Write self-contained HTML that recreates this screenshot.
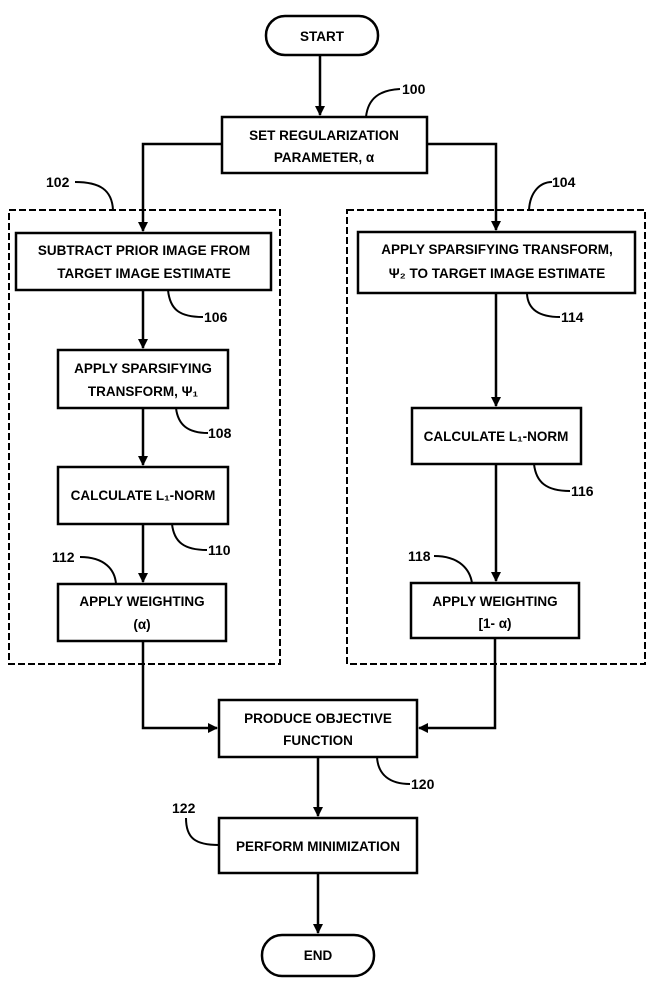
<!DOCTYPE html>
<html><head><meta charset="utf-8"><style>
html,body{margin:0;padding:0;background:#fff;}
svg{display:block;}
text{font-family:"Liberation Sans",sans-serif;font-weight:bold;fill:#000;}
.b{font-size:13.5px;text-anchor:middle;}
.n{font-size:14px;}
</style></head><body>
<svg width="647" height="988" viewBox="0 0 647 988" xmlns="http://www.w3.org/2000/svg">
<defs><marker id="a" markerWidth="10" markerHeight="12" refX="9" refY="6" orient="auto" markerUnits="userSpaceOnUse"><path d="M0,1 L10,6 L0,11 Z" fill="#000"/></marker></defs>
<g fill="none" stroke="#000" stroke-width="2.5">
<rect x="266" y="16" width="112" height="39" rx="19"/>
<rect x="222" y="117" width="205" height="56"/>
<rect x="16" y="233" width="255" height="57"/>
<rect x="358" y="232" width="277" height="61"/>
<rect x="58" y="350" width="170" height="58"/>
<rect x="58" y="467" width="170" height="57"/>
<rect x="58" y="584" width="168" height="57"/>
<rect x="412" y="408" width="169" height="56"/>
<rect x="411" y="583" width="168" height="55"/>
<rect x="219" y="700" width="198" height="57"/>
<rect x="219" y="818" width="198" height="55"/>
<rect x="262" y="935" width="112" height="41" rx="20"/>
</g>
<g fill="none" stroke="#000" stroke-width="2" stroke-dasharray="7,3">
<rect x="9" y="210" width="271" height="454"/>
<rect x="347" y="210" width="298" height="454"/>
</g>
<g fill="none" stroke="#000" stroke-width="2.5">
<path d="M320,55 V115" marker-end="url(#a)"/>
<path d="M222,144 H143 V231" marker-end="url(#a)"/>
<path d="M427,144 H496 V230" marker-end="url(#a)"/>
<path d="M143,290 V348" marker-end="url(#a)"/>
<path d="M143,408 V465" marker-end="url(#a)"/>
<path d="M143,524 V582" marker-end="url(#a)"/>
<path d="M496,293 V406" marker-end="url(#a)"/>
<path d="M496,464 V581" marker-end="url(#a)"/>
<path d="M143,641 V728 H217" marker-end="url(#a)"/>
<path d="M495,638 V728 H419" marker-end="url(#a)"/>
<path d="M318,757 V816" marker-end="url(#a)"/>
<path d="M318,873 V933" marker-end="url(#a)"/>
</g>
<g fill="none" stroke="#000" stroke-width="2">
<path d="M366,117 C368,98 380,90 400,89"/>
<path d="M75,182 C100,182 112,190 113,210"/>
<path d="M552,182 C540,182 530,192 529,210"/>
<path d="M168,290 C170,310 180,317 203,317"/>
<path d="M527,294 C528,310 540,317 560,317"/>
<path d="M176,408 C178,425 188,433 208,433"/>
<path d="M172,524 C174,542 184,550 207,550"/>
<path d="M80,557 C105,557 115,570 116,584"/>
<path d="M534,464 C536,482 546,491 570,491"/>
<path d="M434,556 C460,556 470,570 472,583"/>
<path d="M377,757 C378,775 390,784 410,784"/>
<path d="M186,818 C186,838 195,845 219,845"/>
</g>
<text class="b" x="322" y="41">START</text>
<text class="b" x="324" y="140">SET REGULARIZATION</text>
<text class="b" x="324" y="162">PARAMETER, α</text>
<text class="b" x="144" y="255">SUBTRACT PRIOR IMAGE FROM</text>
<text class="b" x="144" y="278">TARGET IMAGE ESTIMATE</text>
<text class="b" x="497" y="254">APPLY SPARSIFYING TRANSFORM,</text>
<text class="b" x="497" y="278">Ψ₂ TO TARGET IMAGE ESTIMATE</text>
<text class="b" x="143" y="373">APPLY SPARSIFYING</text>
<text class="b" x="143" y="396">TRANSFORM, Ψ₁</text>
<text class="b" x="143" y="500">CALCULATE L₁-NORM</text>
<text class="b" x="142" y="606">APPLY WEIGHTING</text>
<text class="b" x="142" y="629">(α)</text>
<text class="b" x="496" y="441">CALCULATE L₁-NORM</text>
<text class="b" x="495" y="606">APPLY WEIGHTING</text>
<text class="b" x="495" y="628">[1- α)</text>
<text class="b" x="318" y="723">PRODUCE OBJECTIVE</text>
<text class="b" x="318" y="745">FUNCTION</text>
<text class="b" x="318" y="851">PERFORM MINIMIZATION</text>
<text class="b" x="318" y="960">END</text>
<text class="n" x="402" y="94">100</text>
<text class="n" x="46" y="187">102</text>
<text class="n" x="552" y="187">104</text>
<text class="n" x="204" y="322">106</text>
<text class="n" x="561" y="322">114</text>
<text class="n" x="208" y="438">108</text>
<text class="n" x="208" y="555">110</text>
<text class="n" x="52" y="562">112</text>
<text class="n" x="571" y="496">116</text>
<text class="n" x="408" y="561">118</text>
<text class="n" x="411" y="789">120</text>
<text class="n" x="172" y="813">122</text>
</svg>
</body></html>
